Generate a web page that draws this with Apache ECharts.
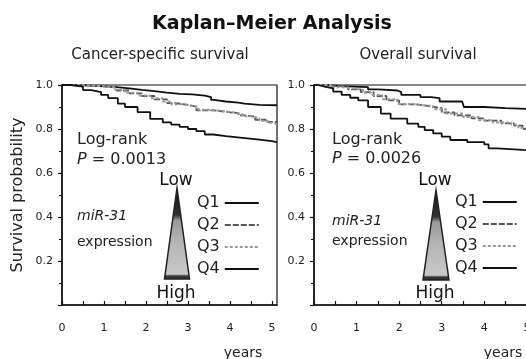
<!DOCTYPE html>
<html><head><meta charset="utf-8">
<script src="https://cdn.jsdelivr.net/npm/echarts@6/dist/echarts.min.js"></script>
<style>html,body{margin:0;padding:0;background:#fff}#c{width:526px;height:359px}</style>
</head><body><div id="c"></div>
<script>
const groupNames = ['Q1', 'Q2', 'Q3', 'Q4'];
const xTickLabels = [0, 1, 2, 3, 4, 5];
const yTickLabels = [0.2, 0.4, 0.6, 0.8, 1.0];
const panelTitles = ['Cancer-specific survival', 'Overall survival'];
const pValues = ['0.0013', '0.0026'];

// Cancer-specific survival: [years, survival probability]
const cssQ1 = [[0,1],[0.4,0.995],[0.9,0.99],[1.3,0.985],[1.6,0.978],[1.9,0.972],[2.2,0.965],[2.5,0.96],[2.8,0.957],[3.1,0.952],[3.4,0.945],[3.55,0.932],[3.62,0.925],[3.9,0.92],[4.2,0.915],[4.35,0.91],[4.7,0.908],[5.12,0.908]];
const cssQ2 = [[0,1],[0.6,0.995],[1.0,0.988],[1.3,0.975],[1.6,0.962],[1.9,0.95],[2.2,0.935],[2.5,0.918],[2.7,0.91],[3.0,0.902],[3.2,0.885],[3.6,0.878],[3.9,0.872],[4.2,0.862],[4.4,0.855],[4.6,0.842],[4.85,0.832],[5.12,0.825]];
const cssQ3 = [[0,1],[0.5,0.995],[0.9,0.99],[1.25,0.978],[1.5,0.965],[1.8,0.952],[2.1,0.94],[2.4,0.925],[2.6,0.912],[2.9,0.905],[3.1,0.9],[3.25,0.888],[3.5,0.882],[3.8,0.875],[4.1,0.868],[4.3,0.858],[4.5,0.85],[4.7,0.838],[4.9,0.828],[5.05,0.82],[5.12,0.82]];
const cssQ4 = [[0,1],[0.2,0.993],[0.5,0.977],[0.7,0.968],[0.93,0.955],[1.1,0.94],[1.33,0.915],[1.5,0.9],[1.8,0.877],[2.1,0.846],[2.4,0.83],[2.6,0.82],[2.8,0.81],[3.0,0.8],[3.2,0.79],[3.4,0.775],[3.6,0.768],[3.9,0.76],[4.3,0.752],[4.7,0.745],[5.0,0.74],[5.12,0.74]];

// Overall survival
const osQ1 = [[0,1],[0.3,0.995],[0.6,0.99],[1.27,0.98],[1.5,0.975],[1.96,0.968],[2.05,0.955],[2.5,0.945],[2.75,0.94],[2.95,0.925],[3.48,0.922],[3.52,0.9],[4.0,0.895],[4.5,0.89],[5.12,0.888]];
const osQ2 = [[0,1],[0.35,0.992],[0.8,0.98],[1.1,0.968],[1.4,0.95],[1.7,0.93],[2.0,0.912],[2.4,0.904],[2.7,0.895],[3.0,0.875],[3.3,0.862],[3.7,0.848],[4.0,0.838],[4.4,0.826],[4.7,0.815],[4.9,0.8],[5.12,0.798]];
const osQ3 = [[0,1],[0.41,0.99],[0.7,0.983],[0.95,0.977],[1.15,0.965],[1.34,0.955],[1.6,0.935],[1.96,0.914],[2.3,0.908],[2.5,0.905],[2.8,0.89],[3.1,0.87],[3.5,0.855],[3.87,0.84],[4.2,0.83],[4.63,0.82],[4.8,0.805],[5.12,0.795]];
const osQ4 = [[0,1],[0.1,0.993],[0.25,0.985],[0.45,0.97],[0.65,0.955],[0.85,0.942],[1.04,0.93],[1.27,0.9],[1.57,0.87],[1.8,0.847],[2.19,0.824],[2.45,0.81],[2.6,0.795],[2.8,0.78],[3.0,0.765],[3.2,0.75],[3.6,0.74],[4.0,0.73],[4.1,0.712],[4.3,0.705],[4.9,0.703],[5.12,0.695]];

const FONT = 'DejaVu Sans';
const styles = [
  {color: '#111', width: 1.8, type: 'solid'},
  {color: '#555', width: 1.8, type: [6, 2]},
  {color: '#9a9a9a', width: 2, type: [3, 2]},
  {color: '#111', width: 1.8, type: 'solid'}
];
const panels = [[cssQ1, cssQ2, cssQ3, cssQ4], [osQ1, osQ2, osQ3, osQ4]];
const halfTicks = [];
for (let i = 0; i < xTickLabels.length; i++) { halfTicks.push(xTickLabels[i]); if (i < xTickLabels.length - 1) halfTicks.push(xTickLabels[i] + 0.5); }

const grids = [
  {left: 62, top: 85, width: 215, height: 220},
  {left: 314, top: 85, width: 218, height: 220}
].map(g => Object.assign(g, {show: true, borderColor: '#111', borderWidth: 1.2, backgroundColor: 'transparent', containLabel: false, outerBoundsMode: 'none'}));

const xAxes = [0, 1].map(i => ({
  type: 'value', gridIndex: i, min: 0, max: 5.12,
  axisLine: {lineStyle: {color: '#111', width: 1.5}},
  axisTick: {inside: true, length: 4, customValues: halfTicks, lineStyle: {color: '#111', width: 1.2}},
  axisLabel: {customValues: xTickLabels, margin: 18, fontFamily: FONT, fontSize: 11, color: '#222', hideOverlap: false},
  splitLine: {show: false}
}));
const yAxes = [0, 1].map(i => ({
  type: 'value', gridIndex: i, min: 0, max: 1, interval: 0.2,
  axisLine: {show: true, lineStyle: {color: '#111', width: 1.5}},
  axisTick: {show: true, length: 4, lineStyle: {color: '#111', width: 1.2}},
  minorTick: {show: true, splitNumber: 2, length: 3, lineStyle: {color: '#111'}},
  axisLabel: {customValues: yTickLabels, formatter: v => v.toFixed(1), margin: 9, fontFamily: FONT, fontSize: 11, color: '#222'},
  splitLine: {show: false},
  name: i === 0 ? 'Survival probability' : '',
  nameLocation: 'middle', nameGap: 36,
  nameTextStyle: {fontFamily: FONT, fontSize: 16, color: '#222'}
}));

const series = [];
panels.forEach((sets, p) => {
  sets.forEach((d, k) => {
    series.push({
      name: groupNames[k], type: 'line', step: 'end', symbol: 'none',
      xAxisIndex: p, yAxisIndex: p, data: d, lineStyle: styles[k], itemStyle: {color: styles[k].color},
      silent: true
    });
  });
});

const legendBase = {
  orient: 'vertical', align: 'right', data: groupNames, itemWidth: 34, itemHeight: 10,
  itemGap: 0, padding: 0, selectedMode: false,
  itemStyle: {opacity: 0},
  textStyle: {fontFamily: FONT, fontSize: 16, color: '#222', lineHeight: 22}
};

function txt(x, y, text, size, opts) {
  return {type: 'text', x: x, y: y, silent: true,
    style: Object.assign({text: text, fontFamily: FONT, fontSize: size, fill: '#222', textAlign: 'left', textVerticalAlign: 'middle'}, opts || {})};
}
function tri(apexX, apexY, baseY, half) {
  return [
    {type: 'polygon', silent: true, shape: {points: [[apexX, apexY], [apexX + half, baseY], [apexX - half, baseY]]},
     style: {fill: {type: 'linear', x: 0, y: 0, x2: 0, y2: 1, colorStops: [
       {offset: 0, color: '#111'}, {offset: 0.3, color: '#333'}, {offset: 0.36, color: '#9a9a9a'},
       {offset: 0.6, color: '#b5b5b5'}, {offset: 0.94, color: '#c8c8c8'}, {offset: 0.96, color: '#333'}, {offset: 1, color: '#333'}]},
       stroke: '#222', lineWidth: 1.5}}
  ];
}

const graphics = [
  txt(272, 24, 'Kaplan\u2013Meier Analysis', 19, {textAlign: 'center', fontWeight: 'bold', fill: '#111'}),
  txt(160, 55, panelTitles[0], 15, {textAlign: 'center'}),
  txt(418, 55, panelTitles[1], 15, {textAlign: 'center'}),
  txt(77, 140, 'Log-rank', 16),
  txt(77, 160, '{i|P} = ' + pValues[0], 16, {rich: {i: {fontStyle: 'italic', fontFamily: FONT, fontSize: 16}}}),
  txt(332, 140, 'Log-rank', 16),
  txt(332, 159, '{i|P} = ' + pValues[1], 16, {rich: {i: {fontStyle: 'italic', fontFamily: FONT, fontSize: 16}}}),
  txt(77, 216, 'miR-31', 14, {fontStyle: 'italic'}),
  txt(77, 242, 'expression', 14),
  txt(332, 221, 'miR-31', 14, {fontStyle: 'italic'}),
  txt(332, 241, 'expression', 14),
  txt(176, 181, 'Low', 17, {textAlign: 'center', fill: '#111'}),
  txt(176, 294, 'High', 17, {textAlign: 'center', fill: '#111'}),
  txt(435, 181, 'Low', 17, {textAlign: 'center', fill: '#111'}),
  txt(435, 294, 'High', 17, {textAlign: 'center', fill: '#111'}),
  txt(243, 353, 'years', 14, {textAlign: 'center'}),
  txt(503, 353, 'years', 14, {textAlign: 'center'})
].concat(tri(177, 188, 279, 12.5)).concat(tri(436, 190, 280, 13));

const chart = echarts.init(document.getElementById('c'), null, {renderer: 'canvas'});
chart.setOption({
  animation: false,
  backgroundColor: '#fff',
  grid: grids,
  xAxis: xAxes,
  yAxis: yAxes,
  legend: [
    Object.assign({left: 197, top: 192}, legendBase),
    Object.assign({left: 455, top: 191}, legendBase)
  ],
  series: series,
  graphic: graphics
});
</script>
</body></html>
